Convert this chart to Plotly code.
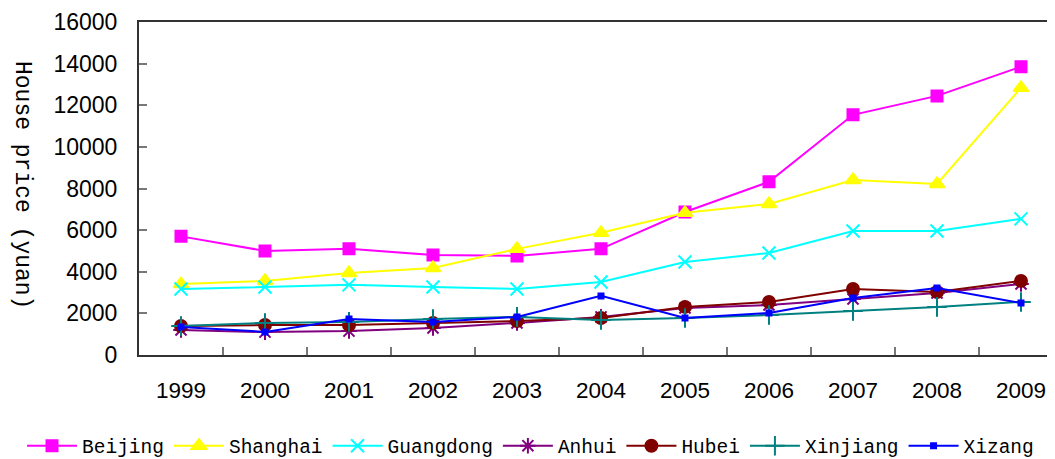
import plotly.graph_objects as go

years = ["1999", "2000", "2001", "2002", "2003", "2004", "2005", "2006", "2007", "2008", "2009"]

beijing = [5700, 5000, 5100, 4800, 4760, 5100, 6870, 8320, 11540, 12450, 13850]
shanghai = [3410, 3560, 3940, 4180, 5100, 5870, 6830, 7260, 8410, 8220, 12840]
guangdong = [3170, 3270, 3370, 3270, 3170, 3510, 4470, 4900, 5960, 5960, 6540]
anhui = [1200, 1100, 1150, 1300, 1540, 1830, 2260, 2400, 2690, 2980, 3410]
hubei = [1390, 1440, 1440, 1540, 1630, 1780, 2310, 2550, 3170, 3030, 3560]
xinjiang = [1390, 1540, 1590, 1730, 1830, 1680, 1780, 1920, 2120, 2310, 2550]
xizang = [1350, 1110, 1730, 1590, 1830, 2840, 1780, 2020, 2740, 3220, 2500]

series = [
    ("Beijing", beijing, "#FF00FF", "square", 11),
    ("Shanghai", shanghai, "#FFFF00", "triangle-up", 13),
    ("Guangdong", guangdong, "#00FFFF", "x-thin-open", 13),
    ("Anhui", anhui, "#800080", "asterisk-open", 13),
    ("Hubei", hubei, "#800000", "circle", 12),
    ("Xinjiang", xinjiang, "#008080", "cross-thin-open", 14),
    ("Xizang", xizang, "#0000FF", "square", 5),
]

fig = go.Figure()
for name, vals, color, sym, size in series:
    fig.add_trace(go.Scatter(
        x=years, y=vals, name=name, mode="lines+markers",
        line=dict(color=color, width=2),
        marker=dict(symbol=sym, size=size, color=color,
                    line=dict(color=color, width=2)),
    ))

fig.update_layout(
    width=1055, height=459,
    margin=dict(l=131, r=0, t=14, b=112, autoexpand=False),
    paper_bgcolor="white", plot_bgcolor="white",
    showlegend=True,
    legend=dict(orientation="h", x=-0.1266, y=-0.2733, xanchor="left", yanchor="middle",
                font=dict(family="Liberation Mono", size=19.5, color="black"),
                itemwidth=50, tracegroupgap=0),
    xaxis=dict(type="category", range=[-0.5, 10.5], showline=True, mirror=True,
               linecolor="#333", linewidth=2, ticks="inside", tickson="boundaries",
               ticklen=8, tickwidth=2, tickcolor="#777", showgrid=False, zeroline=False,
               ticklabelstandoff=14, automargin=False,
               tickfont=dict(family="Liberation Sans", size=22.5, color="black")),
    yaxis=dict(range=[0, 16000], dtick=2000, tickformat="d", showline=True, mirror=False,
               linecolor="#333", linewidth=2, ticks="inside", ticklen=8, tickwidth=2,
               tickcolor="#777", showgrid=False, zeroline=False, ticklabelstandoff=15,
               automargin=False,
               tickfont=dict(family="Liberation Sans", size=23, color="black")),
    annotations=[dict(text="House price (yuan)", textangle=90, xref="paper", yref="paper",
                      x=-0.1266, y=0.5105, xanchor="center", yanchor="middle", showarrow=False,
                      font=dict(family="Liberation Mono", size=23, color="black"))],
)

fig.write_html("out.html")
